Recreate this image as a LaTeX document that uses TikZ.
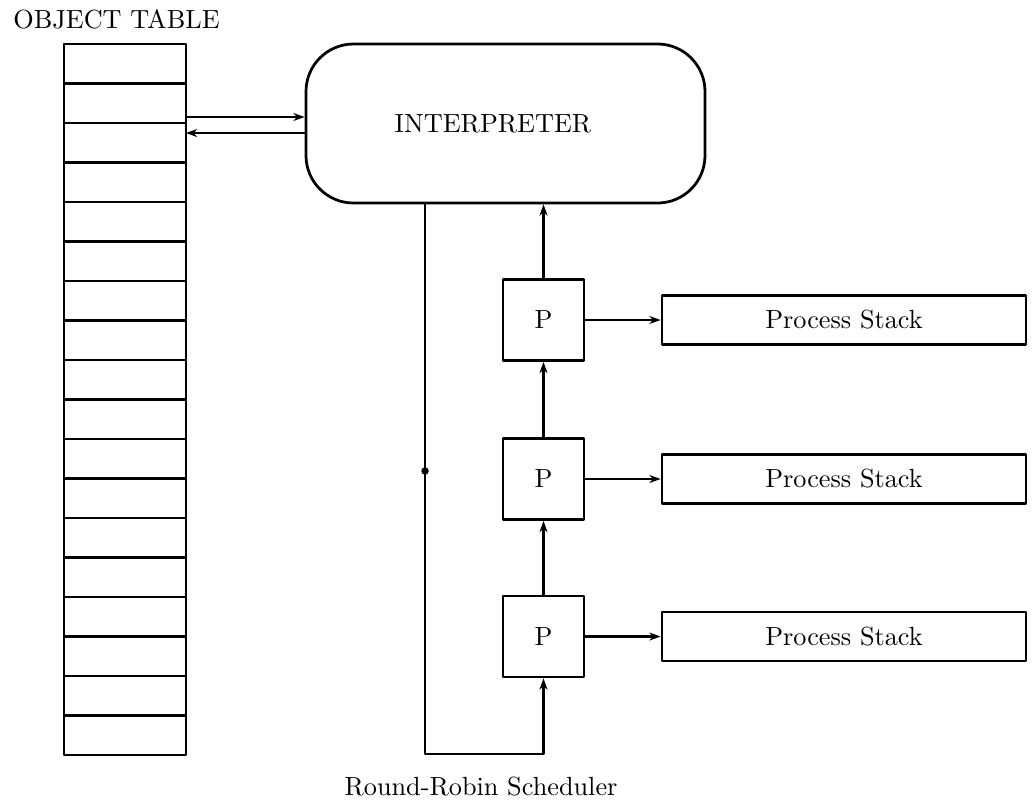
\documentclass[tikz,border=0pt]{standalone}
\usetikzlibrary{arrows.meta,positioning}
\begin{document}
\begin{tikzpicture}[x=0.4pt,y=-0.4pt,line join=round,line width=1.1pt,
	font=\fontsize{10.5}{12.6}\selectfont,
	>={Stealth[length=4.5pt,width=3.2pt]},
	cell/.style={draw,outer sep=0pt,inner sep=0pt,minimum width=48.8pt,minimum height=15.8pt},
	pbox/.style={draw,inner sep=0pt,minimum width=32.4pt,minimum height=32.4pt},
	stackbox/.style={draw,inner sep=0pt,minimum width=145.6pt,minimum height=19.6pt},
	link/.style={->,line width=0.9pt}]
	\useasboundingbox (0,0) rectangle (1032,803);
	\node[anchor=base west,inner sep=0pt] (title) at (12,28) {OBJECT TABLE};
	% object table
	\node[cell,anchor=north west] (cell1) at (64,44) {};
	\foreach \i [count=\j from 2] in {1,...,17}
		\node[cell,below=0pt of cell\i] (cell\j) {};
	% interpreter
	\node[draw,rounded corners=19pt,minimum width=159.6pt,minimum height=63.6pt] (interp) at (505.5,123.5) {};
	\node[anchor=base,inner sep=0pt] (interptext) at (493,132) {INTERPRETER};
	\draw[link] ([yshift=2.4pt]cell3.north east) coordinate (in1) -- (in1 -| interp.west);
	\coordinate (out1) at ([yshift=-4pt]cell3.north east);
	\draw[link] (out1 -| interp.west) -- (out1);
	% processes
	\foreach \n/\y in {1/320,2/479,3/636.5}{
		\node[pbox] (p\n) at (543.5,\y) {P};
		\node[stackbox] (stack\n) at (844,\y) {Process Stack};
		\draw[link] (p\n.east) -- (stack\n.west);
	}
	\draw[link] (p1.north) -- (p1 |- interp.south);
	\draw[link] (p2.north) -- (p1.south);
	\draw[link] (p3.north) -- (p2.south);
	% scheduler
	\coordinate (sched) at (425,754);
	\coordinate (tap) at (425,471);
	\draw[link] (sched |- interp.south) -- (sched) -| (p3.south);
	\fill (tap) circle (1.5pt);
	\node[anchor=base,inner sep=0pt] (schedlabel) at (481,795) {Round-Robin Scheduler};
\end{tikzpicture}
\end{document}
